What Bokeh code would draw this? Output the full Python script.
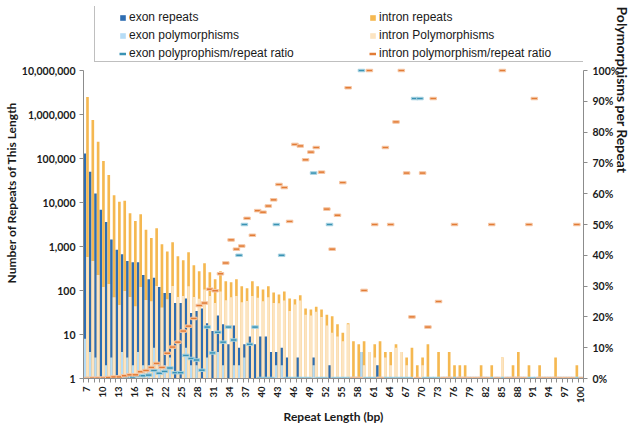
import math
from bokeh.plotting import figure
from bokeh.models import (Range1d, LinearAxis, LogAxis, LinearScale, FixedTicker,
                          NumeralTickFormatter, Legend, LegendItem, ColumnDataSource)
from bokeh.embed import file_html
from bokeh.resources import INLINE

lengths = list(range(7, 101))
tick_labels = [str(v) for v in lengths[::3]]

exon_repeats = [130000, 50000, 16000, 6800, 3600, 1450, 840, 670, 470, 440,
                440, 225, 180, 195, 120, 88, 88, 52, 52, 66,
                31, 34, 39, 18, 12, 27, 17, 6, 16, 5,
                6, 9, 6, 9, 9, 4, 4, 5, 3, 0,
                3, 0, 0, 3, 0, 0, 2, 0, 0, 0,
                0, 0, 4, 0, 0, 2, 0, 0, 0, 0,
                0, 0, 0, 0, 0, 0, 0, 0, 0, 0,
                0, 0, 0, 0, 0, 0, 0, 0, 0, 0,
                0, 0, 0, 0, 0, 0, 0, 0, 0, 0,
                0, 0, 0, 0]
exon_poly = [8, 4, 3, 0, 2, 3, 0, 4, 3, 2,
             4, 2, 2, 5, 2, 2, 3, 1, 1, 5,
             2, 2, 1, 3, 1, 4, 2, 1, 2, 2,
             3, 1, 1, 0, 0, 0, 2, 2, 0, 0,
             0, 0, 0, 2, 0, 0, 1, 0, 0, 0,
             0, 0, 4, 0, 0, 0, 0, 0, 0, 0,
             0, 0, 0, 0, 0, 0, 0, 0, 0, 0,
             0, 0, 0, 0, 0, 0, 0, 0, 0, 0,
             0, 0, 0, 0, 0, 0, 0, 0, 0, 0,
             0, 0, 0, 0]
intron_repeats = [2500000, 750000, 240000, 88000, 42000, 14700, 10400, 11000, 5700, 3800,
                  5400, 2400, 1570, 2600, 1130, 770, 1250, 600, 490, 740,
                  375, 275, 417, 260, 180, 275, 162, 154, 180, 125,
                  112, 162, 125, 106, 125, 90, 81, 95, 66, 63,
                  78, 39, 37, 43, 37, 28, 26, 17, 11, 18,
                  7, 6, 7, 4, 6, 7, 4, 4, 6, 4,
                  3, 5, 2, 3, 6, 0, 4, 0, 4, 2,
                  2, 2, 0, 0, 2, 0, 2, 0, 3, 0,
                  2, 4, 0, 2, 0, 2, 0, 0, 3, 0,
                  0, 0, 2, 0]
intron_poly = [580, 470, 225, 120, 140, 70, 47, 97, 71, 44,
               120, 61, 57, 127, 41, 63, 127, 71, 75, 125,
               71, 65, 105, 75, 52, 95, 60, 70, 75, 54,
               58, 75, 68, 57, 70, 52, 51, 59, 34, 48,
               59, 28, 27, 33, 25, 16, 11, 9, 7, 17,
               0, 0, 2, 4, 3, 0, 3, 2, 5, 4,
               2, 1, 0, 2, 1, 0, 1, 0, 0, 1,
               0, 0, 0, 0, 0, 0, 1, 0, 3, 0,
               0, 0, 0, 1, 0, 0, 0, 0, 0, 0,
               0, 0, 1, 0]
exon_ratio_pct = [0, 0, 0, 0, 0.1, 0.2, 0, 0.6, 0.6, 0.5,
                  0.9, 0.9, 1.1, 2.6, 1.7, 2.3, 3.4, 1.9, 1.9, 7.5,
                  6.5, 6, 2.7, 16.7, 8.3, 15, 11.8, 16.7, 12.5, 40,
                  50, 11.1, 16.7, 0, 0, 0, 50, 40, 0, 0,
                  0, 0, 0, 66.7, 0, 0, 50, 0, 0, 0,
                  0, 0, 100, 0, 0, 0, 0, 0, 0, 0,
                  0, 0, 90.9, 90.9, 0, 0, 0, 0, 0, 0,
                  0, 0, 0, 0, 0, 0, 0, 0, 0, 0,
                  0, 0, 0, 0, 0, 0, 0, 0, 0, 0,
                  0, 0, 0, 0]
intron_ratio_pct = [0, 0.1, 0.1, 0.1, 0.3, 0.5, 0.5, 0.9, 1.2, 1.2,
                    2.2, 2.6, 3.6, 4.9, 3.6, 8.2, 10.2, 11.8, 15.4, 17,
                    19.5, 23.7, 24.5, 29, 28.5, 34, 37.5, 45, 42, 43,
                    52, 46.5, 54.5, 54, 56, 58, 63, 62, 51, 76,
                    75.5, 71, 73.5, 75, 67, 55, 42, 53, 63.6, 94.4,
                    0, 0, 28.6, 100, 50, 0, 75, 50, 83.3, 100,
                    66.7, 20, 0, 66.7, 16.7, 90.9, 25, 0, 0, 50,
                    0, 0, 0, 0, 0, 0, 50, 0, 100, 0,
                    0, 0, 0, 50, 90.9, 0, 0, 0, 0, 0,
                    0, 0, 50, 0]

C_EXON = "#2E6DB2"
C_EXON_P = "#B6DCF6"
C_INTRON = "#F5B851"
C_INTRON_P = "#FCE4C1"
C_EXON_R = "#3A93B4"
C_INTRON_R = "#E27C36"
AXIS_C = "#8C8C8C"
TXT = "#1A1A1A"
FONT = "Lato"

n = len(lengths)
idx = list(range(n))

def bar_top(v):
    return v if v > 0 else 1

src = ColumnDataSource(dict(
    xe=[i - 0.25 for i in idx], xi=[i + 0.25 for i in idx],
    er=[bar_top(v) for v in exon_repeats], ep=[bar_top(v) for v in exon_poly],
    ir=[bar_top(v) for v in intron_repeats], ip=[bar_top(v) for v in intron_poly],
    xr=[v / 100 for v in exon_ratio_pct], nr=[v / 100 for v in intron_ratio_pct],
))

# values 1..1e7 occupy the lower 308 px of the frame; the top 64 px hold the legend
Y_TOP_LOG = 10 ** (7 + 64 / 44)
PCT_TOP = 1 + 64 / 308

p = figure(width=642, height=427, x_range=Range1d(-0.5, n - 0.5), y_range=Range1d(1, Y_TOP_LOG),
           y_axis_type="log", output_backend="svg", toolbar_location=None,
           min_border_left=76, min_border_right=51, min_border_top=6, min_border_bottom=49)
p.extra_y_ranges = {"pct": Range1d(0, PCT_TOP)}
p.extra_y_scales = {"pct": LinearScale()}
p.xgrid.visible = False
p.ygrid.visible = False
p.outline_line_color = None
p.background_fill_color = "white"
p.border_fill_color = "white"

r_er = p.vbar(x="xe", top="er", bottom=1, width=0.5, source=src, fill_color=C_EXON, line_color=None)
r_ep = p.vbar(x="xe", top="ep", bottom=1, width=0.5, source=src, fill_color=C_EXON_P, line_color=None)
r_ir = p.vbar(x="xi", top="ir", bottom=1, width=0.5, source=src, fill_color=C_INTRON, line_color=None)
r_ip = p.vbar(x="xi", top="ip", bottom=1, width=0.5, source=src, fill_color=C_INTRON_P, line_color=None)

p.rect(x="xe", y="xr", width=6.5, height=2.5, width_units="screen", height_units="screen",
       source=src, fill_color=C_EXON_R, line_color="#A9D3E2", line_width=1, y_range_name="pct")
p.rect(x="xi", y="nr", width=6.5, height=2.5, width_units="screen", height_units="screen",
       source=src, fill_color=C_INTRON_R, line_color="#F5C7A6", line_width=1, y_range_name="pct")

# legend-only renderers (their data lie outside the visible x range)
leg_xr = p.line(x=[-20, -19], y=[2, 2], line_color=C_EXON_R, line_width=2.5)
leg_nr = p.line(x=[-20, -19], y=[2, 2], line_color=C_INTRON_R, line_width=2.5)
leg_blank = p.line(x=[-20, -19], y=[2, 2], line_alpha=0)

# axes
ly = p.yaxis[0]
ly.ticker = FixedTicker(ticks=[1, 10, 100, 1000, 10000, 100000, 1000000, 10000000])
ly.formatter = NumeralTickFormatter(format="0,0")
ly.bounds = (1, 1e7)
ly.minor_tick_line_color = None
ly.major_tick_out = 4
ly.major_tick_in = 0
ly.major_label_standoff = 4

ry = LinearAxis(y_range_name="pct", ticker=FixedTicker(ticks=[k / 10 for k in range(11)]),
                formatter=NumeralTickFormatter(format="0%"))
ry.bounds = (0, 1)
ry.minor_tick_line_color = None
ry.major_tick_out = 4
ry.major_tick_in = 0
ry.major_label_standoff = 5
p.add_layout(ry, "right")

xa = p.xaxis[0]
xa.ticker = FixedTicker(ticks=idx[::3], minor_ticks=[i - 0.5 for i in range(n + 1)])
xa.major_label_overrides = {i: lab for i, lab in zip(idx[::3], tick_labels)}
xa.major_label_orientation = math.pi / 2
xa.major_tick_out = 0
xa.major_tick_in = 0
xa.minor_tick_out = 4
xa.minor_tick_in = 0
xa.major_label_standoff = 4
xa.axis_label = "Repeat Length (bp)"
xa.axis_label_standoff = 3

for ax in (ly, ry, xa):
    ax.axis_line_color = AXIS_C
    ax.major_tick_line_color = AXIS_C
    ax.major_label_text_font = FONT
    ax.major_label_text_font_style = "bold"
    ax.major_label_text_color = TXT
    ax.major_label_text_font_size = "10.5px"
    ax.axis_label_text_font = FONT
    ax.axis_label_text_font_style = "bold"
    ax.axis_label_text_color = TXT
    ax.axis_label_text_font_size = "12px"
xa.minor_tick_line_color = AXIS_C
xa.major_label_text_font_size = "9.5px"

# title-only axes (no line, ticks or tick labels) so the titles sit where the reference has them
def title_axis(axis, text, size):
    axis.ticker = FixedTicker(ticks=[])
    axis.axis_line_color = None
    axis.major_tick_line_color = None
    axis.minor_tick_line_color = None
    axis.major_label_text_alpha = 0
    axis.major_label_text_font_size = "1px"
    axis.major_label_standoff = 0
    axis.major_tick_out = 0
    axis.axis_label = text
    axis.axis_label_standoff = 0
    axis.axis_label_text_font = FONT
    axis.axis_label_text_font_style = "bold"
    axis.axis_label_text_color = TXT
    axis.axis_label_text_font_size = size
    return axis

lt = title_axis(LogAxis(), "Number of Repeats of This Length", "12px")
lt.bounds = (1, 10 ** 5.36)
p.add_layout(lt, "left")

rt = title_axis(LinearAxis(y_range_name="pct"), "Polymorphisms per Repeat", "14px")
rt.bounds = (0, 0.655)
props = rt.properties()
if "axis_label_orientation" in props:
    rt.axis_label_orientation = -math.pi / 2
if "axis_label_align" in props:
    rt.axis_label_align = "end"
p.add_layout(rt, "right")

# legend frame (an invisible item that only sizes the bordered box)
box = Legend(items=[LegendItem(label="box", renderers=[leg_blank])], location=(11, 316),
             padding=0, margin=0, spacing=0, glyph_width=1, glyph_height=1, label_standoff=0,
             label_width=497, label_height=55, label_text_font_size="2px", label_text_alpha=0,
             border_line_color="#7F7F7F", border_line_width=1,
             background_fill_color="white", background_fill_alpha=1)
p.add_layout(box)

common = dict(padding=0, margin=0, spacing=4, glyph_width=7, glyph_height=7, label_standoff=3,
              label_height=14, label_text_font="Liberation Sans", label_text_font_size="12px",
              label_text_color=TXT, border_line_color=None, background_fill_alpha=0)
leg1 = Legend(items=[LegendItem(label="exon repeats", renderers=[r_er]),
                     LegendItem(label="exon polymorphisms", renderers=[r_ep]),
                     LegendItem(label="exon polyprophism/repeat ratio", renderers=[leg_xr])],
              location=(36, 318), **common)
leg2 = Legend(items=[LegendItem(label="intron repeats", renderers=[r_ir]),
                     LegendItem(label="intron Polymorphisms", renderers=[r_ip]),
                     LegendItem(label="intron polymorphism/repeat ratio", renderers=[leg_nr])],
              location=(286, 318), **common)
p.add_layout(leg1)
p.add_layout(leg2)

open("out.html", "w").write(file_html(p, INLINE))
